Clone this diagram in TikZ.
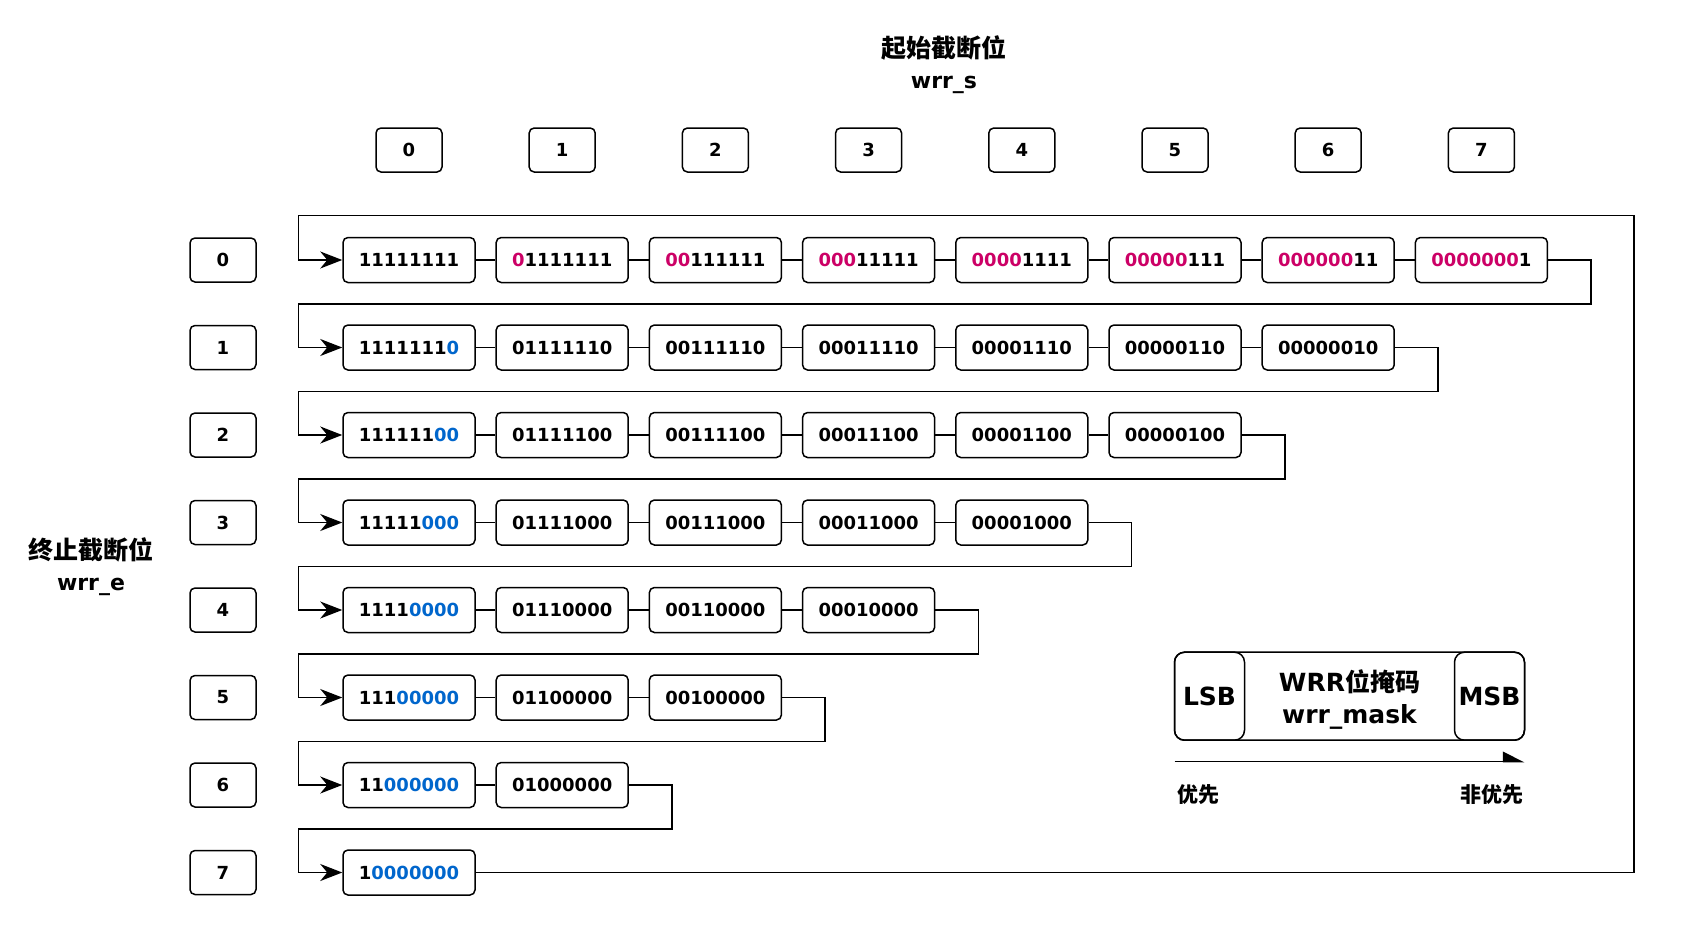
\documentclass[tikz,border=0pt]{standalone}
\usepackage{fontspec}
\setmainfont{DejaVu Sans}
\newfontfamily\cjk{Noto Sans CJK SC}
\usetikzlibrary{arrows.meta}
\definecolor{myred}{RGB}{204,0,102}
\definecolor{myblue}{RGB}{0,102,204}
\def\rep#1#2{\ifnum#1>0 #2\expandafter\rep\expandafter{\the\numexpr#1-1\relax}{#2}\fi}
\tikzset{
  bitbox/.style={draw, line width=1.5pt, rounded corners=5pt, fill=white,
    minimum width=132pt, minimum height=45pt, inner sep=0pt,
    font=\bfseries\fontsize{18}{20}\selectfont},
  numbox/.style={draw, line width=1.5pt, rounded corners=5pt,
    minimum width=66pt, minimum height=44pt, inner sep=0pt,
    font=\bfseries\fontsize{18}{20}\selectfont},
  wire/.style={line width=1.5pt},
  feed/.style={wire, -{Stealth[length=22pt, width=17pt, inset=7pt]}},
  title/.style={font=\bfseries\fontsize{22}{26}\selectfont, inner sep=0pt}
}

\begin{document}
\begin{tikzpicture}[x=1pt, y=-1pt]
  \useasboundingbox (0,0) rectangle (1682,937);

  \node[title] (ts) at (944,48) {\cjk\fontsize{25}{28}\selectfont 起始截断位};
  \node[title] (tsn) at (944,85) {wrr\_s};
  \node[title] (te) at (91,550) {\cjk\fontsize{25}{28}\selectfont 终止截断位};
  \node[title] (ten) at (91,587) {wrr\_e};

  \foreach \c in {0,...,7}
    \node[numbox] (s-\c) at ({409+153.2*\c},150) {\c};
  \foreach \r in {0,...,7}
    \node[numbox] (e-\r) at (223,{260+87.5*\r}) {\r};

  \foreach \r in {0,...,7} {
    \pgfmathtruncatemacro\last{7-\r}
    \foreach \c in {0,...,\last} {
      \pgfmathtruncatemacro\n{8-\c-\r}
      \ifnum\r=0 \def\lc{myred}\else\def\lc{black}\fi
      \ifnum\c=0 \def\tc{myblue}\else\def\tc{black}\fi
      \node[bitbox] (b-\r-\c) at ({409+153.2*\c},{260+87.5*\r})
        {{\color{\lc}\rep{\c}{0}}\rep{\n}{1}{\color{\tc}\rep{\r}{0}}};
      \ifnum\c>0
        \pgfmathtruncatemacro\p{\c-1}
        \draw[wire] (b-\r-\p.east) -- (b-\r-\c.west);
      \fi
    }
  }

  \foreach \r in {0,...,6} {
    \pgfmathtruncatemacro\last{7-\r}
    \pgfmathtruncatemacro\nx{\r+1}
    \draw[feed] (b-\r-\last.east) -- ++(43,0) -- ++(0,43.75)
      -| ([xshift=-44pt]b-\nx-0.west) -- (b-\nx-0.west);
  }
  \coordinate (corner) at (1634,215.6);
  \draw[feed] (b-7-0.east) -| (corner) -| ([xshift=-44pt]b-0-0.west) -- (b-0-0.west);

  \node[draw, line width=1.5pt, rounded corners=10pt, minimum width=350pt,
    minimum height=88pt] (mask) at (1349.5,696.2) {};
  \node[draw, line width=1.5pt, rounded corners=10pt, minimum width=70pt,
    minimum height=88pt, anchor=west, font=\bfseries\fontsize{25}{28}\selectfont] (lsb) at (mask.west) {LSB};
  \node[draw, line width=1.5pt, rounded corners=10pt, minimum width=70pt,
    minimum height=88pt, anchor=east, font=\bfseries\fontsize{25}{28}\selectfont] (msb) at (mask.east) {MSB};
  \node[align=center, font=\bfseries\fontsize{25}{32}\selectfont] (mname) at ([yshift=-3pt]mask.center)
    {WRR{\cjk 位掩码}\\wrr\_mask};

  \coordinate (pl) at (1174.6,761.6);
  \coordinate (pr) at (1524.3,761.6);
  \draw[wire, -{Triangle[harpoon, length=20pt, width=20pt]}] (pl) -- (pr);
  \node[title, anchor=west, font=\bfseries\fontsize{21}{24}\selectfont] (hi) at (1177,795) {\cjk 优先};
  \node[title, anchor=east, font=\bfseries\fontsize{21}{24}\selectfont] (lo) at (1524,795) {\cjk 非优先};
\end{tikzpicture}
\end{document}
